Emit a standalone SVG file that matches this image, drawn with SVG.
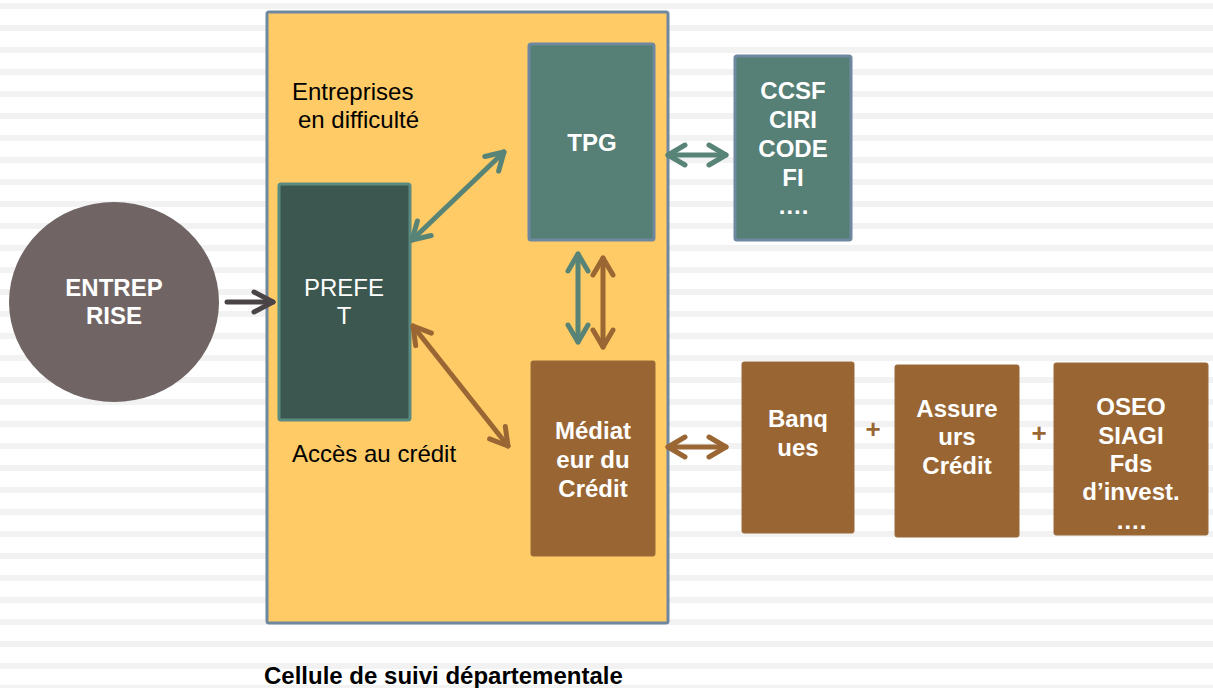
<svg xmlns="http://www.w3.org/2000/svg" width="1213" height="688" viewBox="0 0 1213 688">
<defs>
<pattern id="stripes" x="0" y="3" width="1213" height="22" patternUnits="userSpaceOnUse">
<rect x="0" y="0" width="1213" height="6" fill="#f2f2f2"/>
</pattern>
<marker id="mTeal" viewBox="-24 -14 30 28" refX="0" refY="0" markerWidth="30" markerHeight="28" markerUnits="userSpaceOnUse" orient="auto-start-reverse">
<path d="M-17,-10 L0,0 L-17,10" fill="none" stroke="#578477" stroke-width="5" stroke-linecap="round" stroke-linejoin="round"/>
</marker>
<marker id="mBrown" viewBox="-24 -14 30 28" refX="0" refY="0" markerWidth="30" markerHeight="28" markerUnits="userSpaceOnUse" orient="auto-start-reverse">
<path d="M-17,-10 L0,0 L-17,10" fill="none" stroke="#9a6633" stroke-width="5" stroke-linecap="round" stroke-linejoin="round"/>
</marker>
<marker id="mDark" viewBox="-24 -14 30 28" refX="0" refY="0" markerWidth="30" markerHeight="28" markerUnits="userSpaceOnUse" orient="auto">
<path d="M-19,-10 L0,0 L-19,10" fill="none" stroke="#4a4446" stroke-width="5" stroke-linecap="round" stroke-linejoin="round"/>
</marker>
</defs>
<style>
.lbl{font-family:"Liberation Sans",Arial,sans-serif;font-size:24px;fill:#000}
.wb{font-family:"Liberation Sans",Arial,sans-serif;font-size:24px;font-weight:bold;fill:#fff;text-anchor:middle}
.wr{font-family:"Liberation Sans",Arial,sans-serif;font-size:24px;fill:#fff;text-anchor:middle}
.plus{font-family:"Liberation Sans",Arial,sans-serif;font-size:26px;font-weight:bold;fill:#9a6633;text-anchor:middle}
.teal{fill:#567f76;stroke:#6e88a0;stroke-width:3}
.brown{fill:#996633;stroke:#9a6a3a;stroke-width:1}
.ct{stroke:#578477;stroke-width:5;stroke-linecap:round;fill:none}
.cb{stroke:#9a6633;stroke-width:5;stroke-linecap:round;fill:none}
</style>
<rect width="1213" height="688" fill="#fff"/>
<rect width="1213" height="688" fill="url(#stripes)"/>

<g id="cellule">
<rect x="267" y="12" width="401" height="611" rx="2" fill="#fecb66" stroke="#6e88a0" stroke-width="3"/>
<text class="lbl" x="292" y="100">Entreprises</text>
<text class="lbl" x="298" y="128">en difficulté</text>
<text class="lbl" x="292" y="462">Accès au crédit</text>
</g>

<g id="entreprise">
<ellipse cx="114" cy="302" rx="105" ry="100" fill="#706564"/>
<text class="wb" x="114" y="296">ENTREP</text>
<text class="wb" x="114" y="324">RISE</text>
</g>

<g id="prefet">
<rect x="279" y="184" width="131" height="236" rx="2" fill="#3c5750" stroke="#5a8a80" stroke-width="3"/>
<text class="wr" x="344" y="296">PREFE</text>
<text class="wr" x="344" y="324">T</text>
</g>

<g id="tpg">
<rect class="teal" x="529" y="44" width="125" height="196" rx="2"/>
<text class="wb" x="592" y="151">TPG</text>
</g>

<g id="ccsf">
<rect class="teal" x="735" y="56" width="116" height="184" rx="2"/>
<text class="wb" x="793" y="99">CCSF</text>
<text class="wb" x="793" y="128">CIRI</text>
<text class="wb" x="793" y="157">CODE</text>
<text class="wb" x="793" y="186">FI</text>
<text class="wb" x="793" y="214">….</text>
</g>

<g id="mediateur">
<rect class="brown" x="531" y="361" width="124" height="195" rx="2"/>
<text class="wb" x="593" y="439">Médiat</text>
<text class="wb" x="593" y="468">eur du</text>
<text class="wb" x="593" y="497">Crédit</text>
</g>

<g id="banques">
<rect class="brown" x="742" y="362" width="112" height="171" rx="2"/>
<text class="wb" x="798" y="427">Banq</text>
<text class="wb" x="798" y="456">ues</text>
</g>

<g id="assureurs">
<rect class="brown" x="895" y="365" width="124" height="172" rx="2"/>
<text class="wb" x="957" y="417">Assure</text>
<text class="wb" x="957" y="445">urs</text>
<text class="wb" x="957" y="474">Crédit</text>
</g>

<g id="oseo">
<rect class="brown" x="1054" y="363" width="154" height="172" rx="2"/>
<text class="wb" x="1131" y="415">OSEO</text>
<text class="wb" x="1131" y="444">SIAGI</text>
<text class="wb" x="1131" y="472">Fds</text>
<text class="wb" x="1131" y="500">d’invest.</text>
<text class="wb" x="1131" y="529">….</text>
</g>

<g id="connectors">
<line x1="227" y1="302" x2="273" y2="302" stroke="#4a4446" stroke-width="5" stroke-linecap="round" marker-end="url(#mDark)"/>
<line class="ct" x1="412" y1="240" x2="504" y2="152" marker-start="url(#mTeal)" marker-end="url(#mTeal)"/>
<line class="cb" x1="413" y1="326" x2="508" y2="446" marker-start="url(#mBrown)" marker-end="url(#mBrown)"/>
<line class="ct" x1="578" y1="254" x2="578" y2="342" marker-start="url(#mTeal)" marker-end="url(#mTeal)"/>
<line class="cb" x1="603" y1="258" x2="603" y2="347" marker-start="url(#mBrown)" marker-end="url(#mBrown)"/>
<line class="ct" x1="668" y1="155" x2="726" y2="155" marker-start="url(#mTeal)" marker-end="url(#mTeal)"/>
<line class="cb" x1="668" y1="447" x2="726" y2="447" marker-start="url(#mBrown)" marker-end="url(#mBrown)"/>
</g>

<text class="plus" x="873" y="438">+</text>
<text class="plus" x="1039" y="442">+</text>

<text x="264" y="684" style="font-family:'Liberation Sans',Arial,sans-serif;font-size:24px;font-weight:bold;fill:#000">Cellule de suivi départementale</text>
</svg>
